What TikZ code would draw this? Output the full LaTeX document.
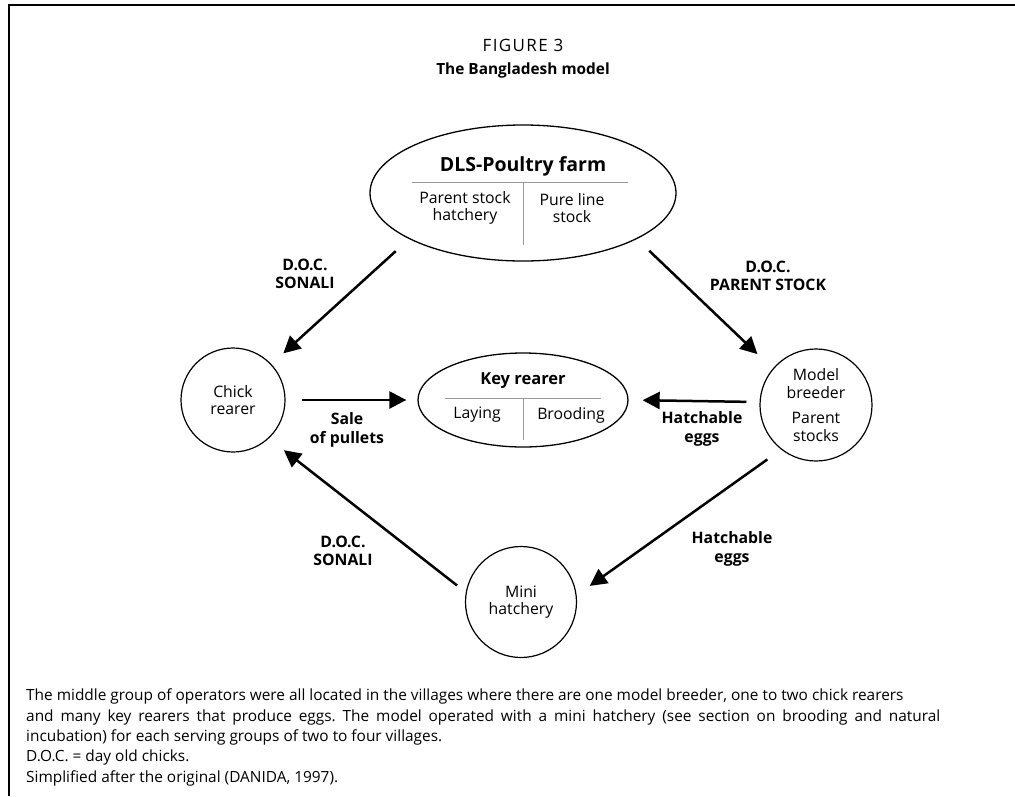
\documentclass[tikz,border=0pt]{standalone}
\usepackage{fontspec}
\setmainfont{Open Sans}
\usetikzlibrary{arrows.meta,shapes.geometric}
\frenchspacing

\begin{document}
\begin{tikzpicture}[x=1pt,y=-1pt]
\tikzset{every node/.style={font=\fontsize{15.8}{17.5}\selectfont, align=center, inner sep=0pt},
         flow/.style={line width=2.5pt, -{Triangle[length=17pt,width=17pt]}},
         lbl/.style={font=\fontsize{15.8}{18.5}\selectfont\bfseries},
         sep/.style={draw=black!40, line width=0.8pt},
         circ/.style={draw, circle, line width=1.2pt, minimum size=#1},
         oval/.style={draw, ellipse, line width=1.3pt}}
\useasboundingbox (0,0) rectangle (1015,796);
\draw[line width=2pt] (9,796) -- (9,5) -- (1015,5);

\node[font=\fontsize{17}{20}\selectfont\addfontfeatures{LetterSpace=8}] (fig) at (523,45) {FIGURE 3};
\node[font=\fontsize{15.4}{19}\selectfont\bfseries] (title) at (523,70) {The Bangladesh model};

\node[oval, minimum width=306pt, minimum height=136pt] (farm) at (523,193) {};
\node[font=\fontsize{19.5}{22}\selectfont\bfseries] (farmt) at (523,166) {DLS-Poultry farm};
\draw[sep] (412,182) -- (628,182);
\draw[sep] (523,182) -- (523,245);
\node (hatch) at (465,208) {Parent stock\\hatchery};
\node (pure) at (572,208) {Pure line\\stock};

\node[oval, minimum width=210pt, minimum height=94pt] (key) at (523,400) {};
\node[font=\fontsize{16.5}{19}\selectfont\bfseries] (keyt) at (523,381) {Key rearer};
\draw[sep] (445,398) -- (601,398);
\draw[sep] (523,398) -- (523,440);
\node (lay) at (477,415) {Laying};
\node (brood) at (571,415) {Brooding};

\node[circ=104pt] (chick) at (233,400) {Chick\\rearer};
\node[circ=112pt] (breeder) at (816,405) {Model\\breeder\\[8pt]Parent\\stocks};
\node[circ=111pt] (mini) at (521,602) {Mini\\hatchery};

\node[lbl] (sonali) at (305,274) {D.O.C.\\SONALI};
\node[lbl] (parent) at (768,276) {D.O.C.\\PARENT STOCK};
\node[lbl] (sale) at (347,430) {Sale\\of pullets};
\node[lbl] (eggs) at (702,429) {Hatchable\\eggs};
\node[lbl] (eggs2) at (732,549) {Hatchable\\eggs};
\node[lbl] (sonali2) at (343,551) {D.O.C.\\SONALI};

\draw[flow, shorten <=18pt, shorten >=16pt] (farm.202) -- (chick.43);
\draw[flow, shorten <=17pt, shorten >=21pt] (farm.338) -- (breeder.140);
\draw[flow, shorten <=16pt, shorten >=11pt] (chick.east) -- (key.west);
\draw[flow, shorten <=13pt, shorten >=14pt] (breeder.177) -- (key.east);
\draw[flow, shorten <=17pt, shorten >=16pt] (breeder.232) -- (mini.7);
\draw[flow, shorten <=11pt, shorten >=19pt] (mini.170) -- (chick.313);

\node[anchor=north west, align=left, font=\fontsize{15.4}{20.3}\selectfont] (note) at (26,689)
  {The middle group of operators were all located in the villages where there are one model breeder, one to two chick rearers\\
   \makebox[914pt][s]{and many key rearers that produce eggs. The model operated with a mini hatchery (see section on brooding and natural}\\
   incubation) for each serving groups of two to four villages.\\
   D.O.C. = day old chicks.\\
   Simplified after the original (DANIDA, 1997).};
\end{tikzpicture}
\end{document}
